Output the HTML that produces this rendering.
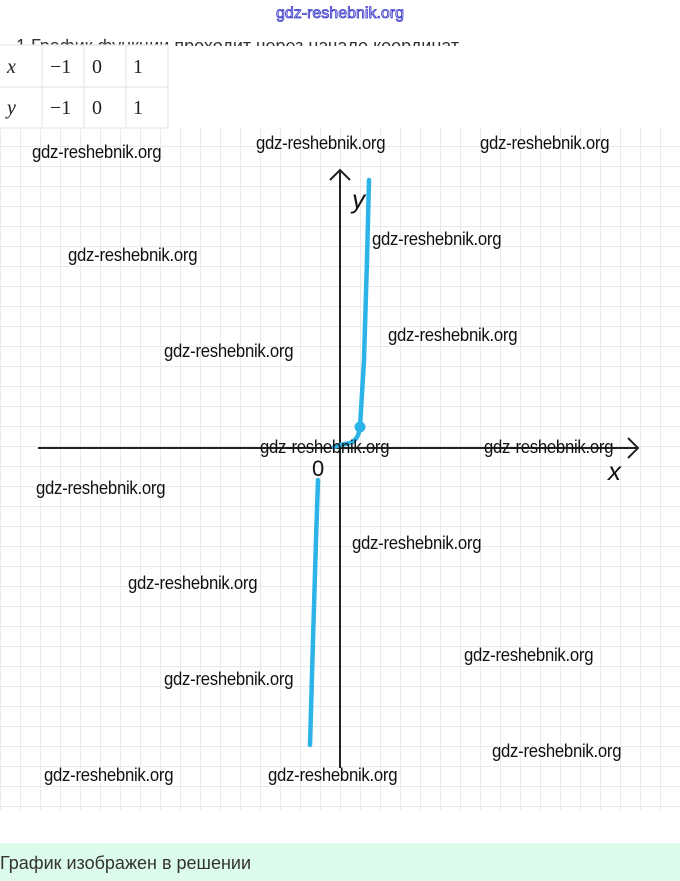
<!DOCTYPE html>
<html><head><meta charset="utf-8"><style>
body{margin:0;width:680px;height:881px;background:#fff;overflow:hidden;position:relative;font-family:"Liberation Sans",sans-serif}
.w{position:absolute;font-family:"Liberation Sans",sans-serif;font-size:18px;color:#111;white-space:nowrap;letter-spacing:-0.3px;transform:scaleX(0.93);transform-origin:0 0}
</style></head><body>
<svg width="680" height="881" style="position:absolute;left:0;top:0">
<defs><pattern id="g" width="20" height="20" patternUnits="userSpaceOnUse" x="0" y="6">
<path d="M0 0H20M0 0V20" stroke="#e4e4e4" stroke-width="1.5" fill="none"/></pattern></defs>
<rect x="0" y="128" width="680" height="682" fill="url(#g)"/>
<rect x="0" y="843" width="680" height="38" fill="#dcfbea"/>
<text x="340" y="18" text-anchor="middle" font-family="Liberation Sans" font-size="16" fill="#dde" stroke="#3333cc" stroke-width="0.8">gdz-reshebnik.org</text>
<text x="16" y="52" font-family="Liberation Sans" font-size="18" fill="#333">1  График функции проходит через начало координат</text>
<rect x="0" y="46" width="478" height="12" fill="#fff"/>
<rect x="0" y="45" width="168" height="84" fill="#fff"/>
<g stroke="#e6e6e6" stroke-width="1.2" fill="none">
<path d="M0 45H168M0 87H168M0 128H168M42 45V128M84 45V128M126 45V128M168 45V128"/>
</g>
<g font-family="Liberation Serif" font-size="20" fill="#222">
<text x="7" y="73" font-style="italic">x</text><text x="50" y="73">−1</text><text x="92" y="73">0</text><text x="133" y="73">1</text>
<text x="7" y="114" font-style="italic">y</text><text x="50" y="114">−1</text><text x="92" y="114">0</text><text x="133" y="114">1</text>
</g>
<g stroke="#222" stroke-width="2" fill="none">
<path d="M38 448H638M628 438L638 448L628 458"/>
<path d="M340 768V170M330 180L340 170L350 180"/>
</g>
<path d="M310 745 L313 640 L316 540 L318 480" stroke="#2cb3e8" stroke-width="4.5" fill="none" stroke-linecap="round"/>
<path d="M334 447 C340 445 344 444 350 443 C356 441 359 435 360 427 L364 360 L367 260 L369 180" stroke="#2cb3e8" stroke-width="4.5" fill="none" stroke-linecap="round"/>
<circle cx="360" cy="427" r="5.5" fill="#2cb3e8"/>
<text x="352" y="208" font-family="Liberation Sans" font-style="italic" font-size="26" fill="#111">y</text>
<text x="608" y="480" font-family="Liberation Sans" font-style="italic" font-size="26" fill="#111">x</text>
<text x="312" y="476" font-family="Liberation Sans" font-size="22" fill="#111">0</text>
<text x="0" y="869" font-family="Liberation Sans" font-size="18" fill="#333">График изображен в решении</text>
</svg>
<div class="w" style="left:32px;top:142px">gdz-reshebnik.org</div>
<div class="w" style="left:256px;top:133px">gdz-reshebnik.org</div>
<div class="w" style="left:480px;top:133px">gdz-reshebnik.org</div>
<div class="w" style="left:372px;top:229px">gdz-reshebnik.org</div>
<div class="w" style="left:68px;top:245px">gdz-reshebnik.org</div>
<div class="w" style="left:388px;top:325px">gdz-reshebnik.org</div>
<div class="w" style="left:164px;top:341px">gdz-reshebnik.org</div>
<div class="w" style="left:260px;top:437px">gdz-reshebnik.org</div>
<div class="w" style="left:484px;top:437px">gdz-reshebnik.org</div>
<div class="w" style="left:36px;top:478px">gdz-reshebnik.org</div>
<div class="w" style="left:352px;top:533px">gdz-reshebnik.org</div>
<div class="w" style="left:128px;top:573px">gdz-reshebnik.org</div>
<div class="w" style="left:464px;top:645px">gdz-reshebnik.org</div>
<div class="w" style="left:164px;top:669px">gdz-reshebnik.org</div>
<div class="w" style="left:492px;top:741px">gdz-reshebnik.org</div>
<div class="w" style="left:44px;top:765px">gdz-reshebnik.org</div>
<div class="w" style="left:268px;top:765px">gdz-reshebnik.org</div>
</body></html>
